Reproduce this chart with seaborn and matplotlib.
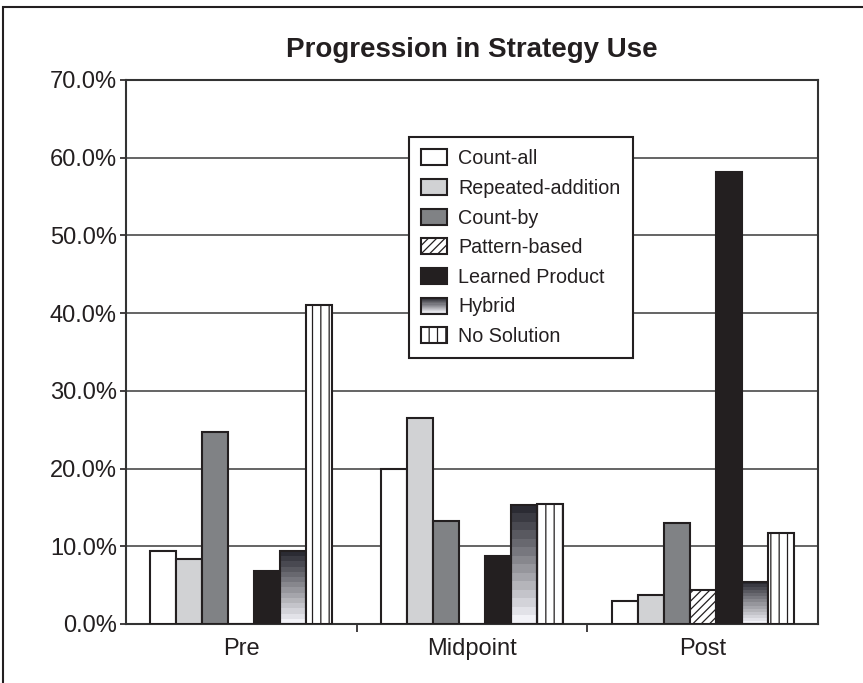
import numpy as np
import pandas as pd
import matplotlib
matplotlib.use("Agg")
import matplotlib.pyplot as plt
from matplotlib.patches import Patch, Rectangle
from matplotlib.legend_handler import HandlerBase
from matplotlib.ticker import FixedLocator, FuncFormatter
import seaborn as sns

# ---- data (percent of responses) ----
phases = ["Pre", "Midpoint", "Post"]
strategies = ["Count-all", "Repeated-addition", "Count-by", "Pattern-based",
              "Learned Product", "Hybrid", "No Solution"]
count_all = [9.35, 19.9, 3.0]
repeated_addition = [8.35, 26.5, 3.75]
count_by = [24.7, 13.25, 13.0]
pattern_based = [0.0, 0.0, 4.4]
learned_product = [6.8, 8.75, 58.2]
hybrid = [9.35, 15.3, 5.45]
no_solution = [41.0, 15.5, 11.75]
y_ticks = [0, 10, 20, 30, 40, 50, 60, 70]

series = [count_all, repeated_addition, count_by, pattern_based,
          learned_product, hybrid, no_solution]
df = pd.DataFrame(
    [(p, s, vals[i]) for s, vals in zip(strategies, series) for i, p in enumerate(phases)],
    columns=["phase", "strategy", "value"],
)

INK = "#231f20"
fills = {
    "Count-all": "#ffffff",
    "Repeated-addition": "#d1d2d4",
    "Count-by": "#808285",
    "Pattern-based": "#ffffff",
    "Learned Product": INK,
    "Hybrid": "#ffffff",
    "No Solution": "#ffffff",
}
hatches = {"Pattern-based": "////", "No Solution": "||"}

# stepped grey ramp for the Hybrid bars, dark at the top
n_steps = 14
ramp = [(0.17 + (0.95 - 0.17) * t, 0.17 + (0.95 - 0.17) * t, 0.20 + (0.97 - 0.20) * t)
        for t in np.linspace(0, 1, n_steps)]

sns.set_style("ticks")
plt.rcParams["font.family"] = ["Liberation Sans", "DejaVu Sans"]
plt.rcParams["hatch.color"] = INK
plt.rcParams["hatch.linewidth"] = 0.9
plt.rcParams["text.color"] = INK

W, H = 863, 683
fig = plt.figure(figsize=(W / 100, H / 100), dpi=100)
ax = fig.add_axes([126 / W, 1 - 624 / H, (818 - 126) / W, (624 - 80) / H])

sns.barplot(data=df, x="phase", y="value", hue="strategy", order=phases,
            hue_order=strategies, palette=fills, saturation=1, width=0.79,
            edgecolor=INK, linewidth=1.5, errorbar=None, legend=False, ax=ax)

for strat, cont in zip(strategies, ax.containers):
    for bar in cont.patches:
        if strat in hatches:
            bar.set_hatch(hatches[strat])
        bar.set_zorder(3)
        if strat == "Hybrid":
            bar.set_facecolor("none")
            x0, y0 = bar.get_x(), bar.get_y()
            w, h = bar.get_width(), bar.get_height()
            img = np.array(ramp)[:, None, :]
            ax.imshow(img, extent=(x0, x0 + w, y0, y0 + h), aspect="auto",
                      interpolation="nearest", origin="upper", zorder=2.5)

ax.set_xlim(-0.5, 2.5)
ax.set_ylim(0, 70)
ax.set_xlabel("")
ax.set_ylabel("")

ax.yaxis.set_major_locator(FixedLocator(y_ticks))
ax.yaxis.set_major_formatter(FuncFormatter(lambda v, _: f"{v:.1f}%"))
ax.set_axisbelow(True)
ax.yaxis.grid(True, color="#3a3a3a", linewidth=1.1)
ax.xaxis.grid(False)

ax.set_xticks([0.5, 1.5], minor=True)
ax.tick_params(axis="x", which="minor", length=6, width=1.2, color=INK, direction="out")
ax.tick_params(axis="x", which="major", length=0, pad=10, labelsize=17, labelcolor=INK)
ax.tick_params(axis="y", which="major", length=4, width=1.2, color=INK, pad=2.5,
               labelsize=17, labelcolor=INK)

for sp in ax.spines.values():
    sp.set_visible(True)
    sp.set_color("#333333")
    sp.set_linewidth(1.5)

fig.text(ax.get_position().x0 + ax.get_position().width / 2, 1 - 50 / H,
         "Progression in Strategy Use", ha="center", va="center",
         fontsize=20, fontweight="bold", color=INK)


class GradientHandler(HandlerBase):
    def create_artists(self, legend, orig_handle, xdescent, ydescent,
                       width, height, fontsize, trans):
        arts = []
        n = len(ramp)
        for i, c in enumerate(ramp):
            y0 = -ydescent + height * (n - 1 - i) / n
            arts.append(Rectangle((-xdescent, y0), width, height / n, facecolor=c,
                                  edgecolor="none", transform=trans))
        arts.append(Rectangle((-xdescent, -ydescent), width, height, facecolor="none",
                              edgecolor=INK, linewidth=1.5, transform=trans))
        return arts


handles = []
hmap = {}
for s in strategies:
    p = Patch(facecolor=fills[s], edgecolor=INK, linewidth=1.5,
              hatch=hatches.get(s), label=s)
    handles.append(p)
    if s == "Hybrid":
        hmap[p] = GradientHandler()

leg = ax.legend(handles=handles, handler_map=hmap, loc="upper left",
                bbox_to_anchor=((409 - 126) / 692, (624 - 137) / 544),
                borderaxespad=0, frameon=True, fancybox=False, framealpha=1,
                fontsize=14.2, handlelength=1.32, handleheight=0.87,
                handletextpad=0.55, labelspacing=0.54, borderpad=0.62)
leg.get_frame().set_edgecolor(INK)
leg.get_frame().set_linewidth(1.5)
for t in leg.get_texts():
    t.set_color(INK)

# page frame around the chart
fig.add_artist(Rectangle((3 / W, -0.1), 1.2, 1.1 - 7 / H, transform=fig.transFigure,
                         facecolor="none", edgecolor=INK, linewidth=1.5))

fig.savefig("out.png", dpi=100)
